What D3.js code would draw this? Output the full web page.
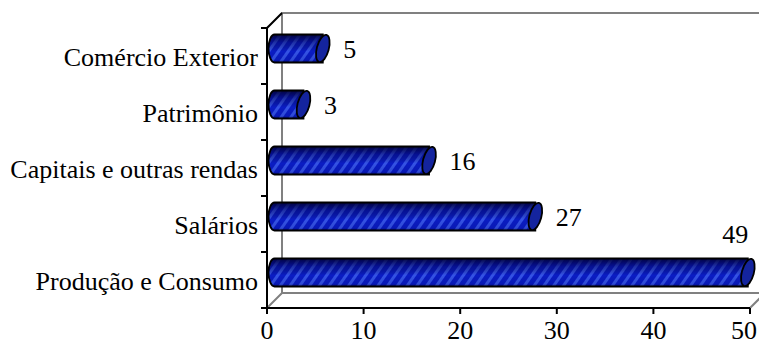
<!DOCTYPE html>
<html>
<head>
<meta charset="utf-8">
<script src="https://cdn.jsdelivr.net/npm/d3@7"></script>
<style>
    body { margin: 0; background: #fff; }
    #chart { width: 759px; height: 345px; }
</style>
</head>
<body>
<div id="chart"></div>
<script>

// data, top to bottom as in the picture
let categories = ["Comércio Exterior", "Patrimônio", "Capitais e outras rendas", "Salários", "Produção e Consumo"];
let values = [5, 3, 16, 27, 49];
let xTicks = [0, 10, 20, 30, 40, 50];

const FONT = "'Liberation Serif', 'DejaVu Serif', serif";


class CylinderBars {

    constructor(parentElement, categories, values) {
        this.parentElement = parentElement;
        this.categories = categories;
        this.values = values;

        this.initVis();
    }

    initVis() {
        let vis = this;

        vis.width = 759;
        vis.height = 345;
        vis.depth = 15;

        vis.svg = d3.select("#" + vis.parentElement).append("svg")
            .attr("width", vis.width)
            .attr("height", vis.height)
            .attr("font-family", FONT);

        // scales
        vis.x = d3.scaleLinear()
            .domain([0, 50])
            .range([267, 750]);

        vis.y = d3.scaleBand()
            .domain(vis.categories)
            .range([28, 308]);

        let defs = vis.svg.append("defs");

        // diagonal stripes
        let pat = defs.append("pattern")
            .attr("id", "stripes")
            .attr("patternUnits", "userSpaceOnUse")
            .attr("width", 8)
            .attr("height", 8)
            .attr("patternTransform", "rotate(35)");
        pat.append("rect").attr("width", 8).attr("height", 8).attr("fill", "#0a1cc4");
        pat.append("rect").attr("width", 3).attr("height", 8).attr("fill", "#3452e6");

        // shading across the cylinder
        let grad = defs.append("linearGradient")
            .attr("id", "shade")
            .attr("x1", 0).attr("y1", 0).attr("x2", 0).attr("y2", 1);
        [[0, "#000030", 0.9], [0.3, "#000050", 0.4], [0.6, "#000000", 0], [0.9, "#000040", 0.1], [1, "#000030", 0.45]]
            .forEach(s => grad.append("stop")
                .attr("offset", s[0])
                .attr("stop-color", s[1])
                .attr("stop-opacity", s[2]));

        vis.drawFrame();
        vis.drawBars();
    }

    drawFrame() {
        let vis = this;
        let d = vis.depth;
        let x0 = vis.x(0), x1 = vis.x(50);
        let yTop = vis.y.range()[0], yBot = vis.y.range()[1];

        let grey = vis.svg.append("g")
            .attr("stroke", "#808080")
            .attr("stroke-width", 2)
            .attr("fill", "none");

        // back wall and floor
        grey.append("path")
            .attr("d", `M${x0 + d},${yBot - d} L${x0 + d},${yTop - d} L${x1 + d + 20},${yTop - d}`);
        grey.append("path")
            .attr("d", `M${x0},${yBot} L${x0 + d},${yBot - d} L${x1 + d + 20},${yBot - d}`);
        grey.append("path")
            .attr("d", `M${x1},${yBot} L${x1 + d},${yBot - d}`);

        // front axes
        let axes = vis.svg.append("g")
            .attr("stroke", "#000")
            .attr("stroke-width", 2)
            .attr("fill", "none");

        axes.append("path")
            .attr("d", `M${x0 + d},${yTop - d} L${x0},${yTop} L${x0},${yBot} L${x1},${yBot}`);

        // y ticks between categories
        let yEdges = vis.categories.map(c => vis.y(c)).concat([yBot]);
        axes.selectAll(".ytick")
            .data(yEdges)
            .enter().append("line")
            .attr("x1", x0 - 6).attr("x2", x0)
            .attr("y1", v => v).attr("y2", v => v);

        // x ticks
        axes.selectAll(".xtick")
            .data(xTicks)
            .enter().append("line")
            .attr("x1", v => vis.x(v)).attr("x2", v => vis.x(v))
            .attr("y1", yBot).attr("y2", yBot + 6);

        // last label would run off the right edge, keep it inside
        vis.svg.selectAll(".xlabel")
            .data(xTicks)
            .enter().append("text")
            .attr("class", "xlabel")
            .attr("x", v => Math.min(vis.x(v), vis.width - 15))
            .attr("y", 339)
            .attr("text-anchor", "middle")
            .attr("font-size", 26)
            .text(v => v);

        vis.svg.selectAll(".ylabel")
            .data(vis.categories)
            .enter().append("text")
            .attr("class", "ylabel")
            .attr("x", 258)
            .attr("y", c => vis.y(c) + vis.y.bandwidth() / 2)
            .attr("dy", "0.37em")
            .attr("text-anchor", "end")
            .attr("font-size", 26)
            .text(c => c);
    }

    drawBars() {
        let vis = this;
        let off = vis.depth / 2;
        let ry = 14, rx = 6;
        let data = vis.categories.map((c, i) => ({cat: c, val: vis.values[i]}));

        let bar = vis.svg.selectAll(".bar")
            .data(data)
            .enter().append("g")
            .attr("class", "bar");

        let cy = d => vis.y(d.cat) + vis.y.bandwidth() / 2 - off;
        let xs = () => vis.x(0) + off;
        let xe = d => vis.x(d.val) + off;

        let body = d => `M${xe(d)},${cy(d) - ry} L${xs()},${cy(d) - ry}
            A${rx},${ry} 0 0 0 ${xs()},${cy(d) + ry} L${xe(d)},${cy(d) + ry} Z`;

        bar.append("path")
            .attr("d", body)
            .attr("fill", "url(#stripes)");
        bar.append("path")
            .attr("d", body)
            .attr("fill", "url(#shade)")
            .attr("stroke", "#000")
            .attr("stroke-width", 1.8);

        bar.append("ellipse")
            .attr("cx", xe)
            .attr("cy", cy)
            .attr("rx", rx)
            .attr("ry", ry)
            .attr("transform", d => `rotate(15,${xe(d)},${cy(d)})`)
            .attr("fill", "#14249e")
            .attr("stroke", "#000")
            .attr("stroke-width", 1.8);

        // value labels, the last one does not fit on the right so it sits above
        vis.svg.selectAll(".vlabel")
            .data(data)
            .enter().append("text")
            .attr("class", "vlabel")
            .attr("x", d => d.val > 40 ? vis.x(d.val) - 5 : vis.x(d.val) + 28)
            .attr("y", d => d.val > 40 ? cy(d) - ry - 25 : cy(d))
            .attr("dy", "0.35em")
            .attr("text-anchor", d => d.val > 40 ? "middle" : "start")
            .attr("font-size", 26)
            .text(d => d.val);
    }
}

new CylinderBars("chart", categories, values);

</script>
</body>
</html>
